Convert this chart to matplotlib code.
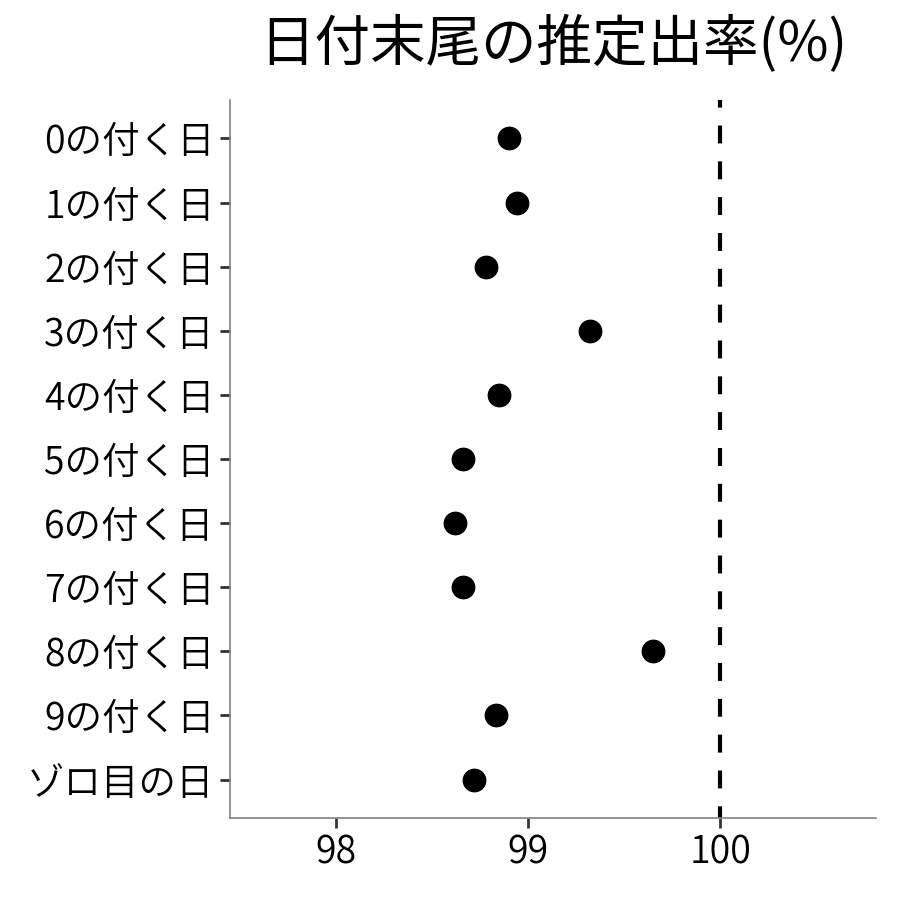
import matplotlib.pyplot as plt

plt.rcParams['font.family'] = ['Noto Sans CJK JP', 'DejaVu Sans']
plt.rcParams['font.weight'] = 350

labels = ['0の付く日', '1の付く日', '2の付く日', '3の付く日', '4の付く日', '5の付く日',
          '6の付く日', '7の付く日', '8の付く日', '9の付く日', 'ゾロ目の日']
rates = [98.90, 98.94, 98.78, 99.32, 98.85, 98.66, 98.62, 98.66, 99.65, 98.83, 98.72]

fig = plt.figure(figsize=(9, 9), dpi=100)
ax = fig.add_axes([0.2556, 0.0911, 0.7178, 0.7978])

ypos = list(range(len(labels), 0, -1))
ax.scatter(rates, ypos, s=260, color='black', zorder=3)
ax.axvline(100, color='black', linewidth=3, linestyle=(1.5, (4.3, 4.3)), zorder=2)

ax.set_yticks(ypos)
ax.set_yticklabels(labels)
ax.set_xticks([98, 99, 100])
ax.set_xlim(97.448, 100.81)
ax.set_ylim(0.4, len(labels) + 0.6)

for side in ['top', 'right']:
    ax.spines[side].set_visible(False)
for side in ['left', 'bottom']:
    ax.spines[side].set_color('#808080')
    ax.spines[side].set_linewidth(1.2)

ax.tick_params(axis='both', labelsize=27, length=7, width=2, color='#333333',
               pad=4, labelcolor='black')

ax.set_title('日付末尾の推定出率(%)', fontsize=40, pad=28, fontweight='normal')

fig.savefig('out.png', dpi=100)
